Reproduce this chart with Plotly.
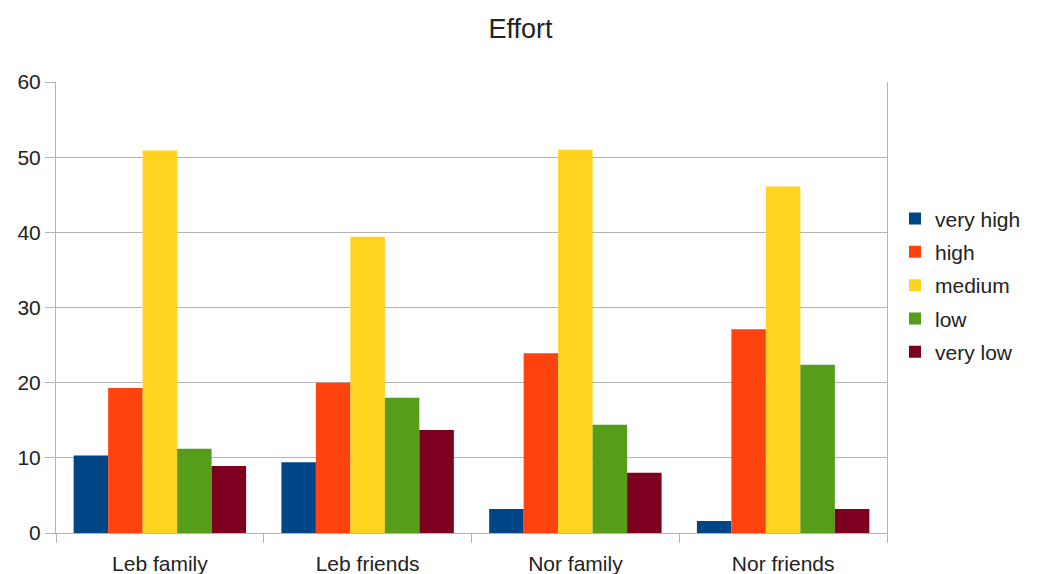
import plotly.graph_objects as go

# Survey groups and effort ratings (percent of respondents)
groups = ["Leb family", "Leb friends", "Nor family", "Nor friends"]
levels = ["very high", "high", "medium", "low", "very low"]

very_high = [10.3, 9.4, 3.2, 1.6]
high = [19.3, 20.0, 23.9, 27.1]
medium = [50.9, 39.4, 51.0, 46.1]
low = [11.2, 18.0, 14.4, 22.4]
very_low = [8.9, 13.7, 8.0, 3.2]

series = [very_high, high, medium, low, very_low]
colors = ["#004586", "#ff420e", "#ffd320", "#579d1c", "#7e0021"]

FONT = "Liberation Sans, Arial, sans-serif"
TEXT = "#222222"
GRID = "#b3b3b3"

fig = go.Figure()
for name, vals, col in zip(levels, series, colors):
    fig.add_trace(go.Bar(
        x=groups, y=vals, name=name, legendgroup=name,
        marker=dict(color=col, line=dict(width=0)),
    ))

fig.update_layout(
    width=1041, height=574,
    margin=dict(l=56, r=154, t=82, b=41),
    paper_bgcolor="white", plot_bgcolor="white",
    barmode="group", bargap=0.17, bargroupgap=0,
    font=dict(family=FONT, size=21, color=TEXT),
    title=dict(text="Effort", x=0.5, xref="container", xanchor="center",
               y=1 - 29 / 574, yref="container", yanchor="middle",
               font=dict(family=FONT, size=27, color=TEXT)),
    legend=dict(x=895 / 1041, xref="container", xanchor="left",
                y=0.549, yanchor="middle", tracegroupgap=3,
                font=dict(family=FONT, size=21, color=TEXT),
                bgcolor="rgba(0,0,0,0)"),
    showlegend=True,
)

fig.update_xaxes(
    type="category", tickson="boundaries", ticks="outside", ticklen=9,
    tickcolor=GRID, showgrid=False, showline=True, linecolor=GRID,
    linewidth=1, ticklabelstandoff=12, automargin=False,
    tickfont=dict(family=FONT, size=21, color=TEXT),
)
fig.update_yaxes(
    range=[0, 60], dtick=10, ticks="outside", ticklen=10, tickcolor=GRID,
    showgrid=True, gridcolor=GRID, gridwidth=1, zeroline=False,
    showline=True, mirror=True, linecolor=GRID, linewidth=1,
    automargin=False,
    tickfont=dict(family=FONT, size=21, color=TEXT),
)

fig.write_html("out.html")
